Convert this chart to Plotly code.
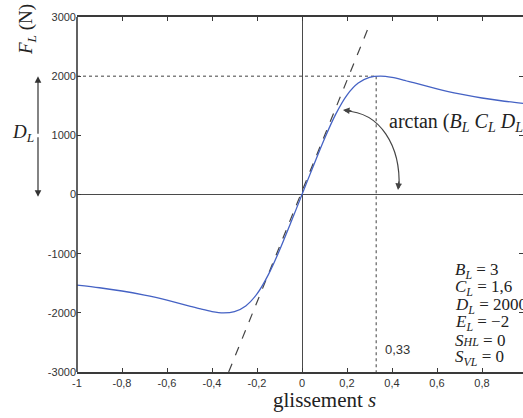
import plotly.graph_objects as go

# ---- data ----
slip = [-1.0, -0.9, -0.8, -0.7, -0.65, -0.6, -0.55, -0.5, -0.45, -0.4, -0.35, -0.3, -0.25, -0.2, -0.15, -0.1, -0.05,
        0.0, 0.05, 0.1, 0.15, 0.2, 0.25, 0.3, 0.35, 0.4, 0.45, 0.5, 0.55, 0.6, 0.65, 0.7, 0.8, 0.9, 1.0]
force = [-1532, -1576, -1631, -1700, -1740, -1785, -1834, -1885, -1935, -1978, -2000, -1979, -1883, -1681, -1359, -944, -479,
         0, 479, 944, 1359, 1681, 1883, 1979, 2000, 1978, 1935, 1885, 1834, 1785, 1740, 1700, 1631, 1576, 1532]
tangent_s = [-0.326, 0.297]
tangent_F = [-3000, 2840]
peak_s = 0.33
peak_F = 2000

x_tickvals = [-1, -0.8, -0.6, -0.4, -0.2, 0, 0.2, 0.4, 0.6, 0.8]
x_ticktext = ["-1", "-0,8", "-0,6", "-0,4", "-0,2", "0", "0,2", "0,4", "0,6", "0,8"]
y_tickvals = [-3000, -2000, -1000, 0, 1000, 2000, 3000]
y_ticktext = ["-3000", "-2000", "-1000", "0", "1000", "2000", "3000"]

params = ["<i>B</i><sub><i>L</i></sub> = 3",
          "<i>C</i><sub><i>L</i></sub> = 1,6",
          "<i>D</i><sub><i>L</i></sub> = 2000",
          "<i>E</i><sub><i>L</i></sub> = \u22122",
          "<i>S</i><span style='font-size:12px'><i>HL</i></span> = 0",
          "<i>S</i><sub><i>VL</i></sub> = 0"]

W, H = 523, 418
ML, MR, MT, MB = 77, 0, 17, 46
PW, PH = W - ML - MR, H - MT - MB

def px_x(p):
    return (p - ML) / PW

def px_y(p):
    return (H - MB - p) / PH

AX = "#3a3a3a"
SERIF = "Liberation Serif"
SANS = "Liberation Sans"

fig = go.Figure()

# tangent (dashed)
fig.add_trace(go.Scatter(x=tangent_s, y=tangent_F, mode="lines",
                         line=dict(color="#444444", width=1.2, dash="9px,9px"),
                         hoverinfo="skip", showlegend=False))
# dotted guides
fig.add_trace(go.Scatter(x=[-1, peak_s], y=[peak_F, peak_F], mode="lines",
                         line=dict(color="#808080", width=1.5, dash="3px,3px"),
                         hoverinfo="skip", showlegend=False))
fig.add_trace(go.Scatter(x=[peak_s, peak_s], y=[peak_F, -3000], mode="lines",
                         line=dict(color="#808080", width=1.5, dash="3px,3px"),
                         hoverinfo="skip", showlegend=False))
# curve
fig.add_trace(go.Scatter(x=slip, y=force, mode="lines",
                         line=dict(color="#4562c4", width=1.3, shape="spline", smoothing=0.8),
                         hoverinfo="skip", showlegend=False))

shapes = [
    # left axis line
    dict(type="line", xref="paper", yref="paper", x0=0, x1=0, y0=0, y1=1,
         line=dict(color=AX, width=1.6)),
    # curved arrow
    dict(type="path", xref="x", yref="y",
         path="M 0.191,1411 C 0.347,1394 0.44,820 0.431,110",
         line=dict(color="#444444", width=1.2)),
]

ann = []
# arrow heads of curved arrow
ann.append(dict(x=0.182, y=1428, xref="x", yref="y", ax=10, ay=1, text="",
                showarrow=True, arrowhead=2, arrowsize=1.1, arrowwidth=1.2, arrowcolor="#444444"))
ann.append(dict(x=0.4267, y=76, xref="x", yref="y", ax=1, ay=-10, text="",
                showarrow=True, arrowhead=2, arrowsize=1.1, arrowwidth=1.2, arrowcolor="#444444"))
# D_L double arrow
ann.append(dict(x=px_x(38), y=2000, xref="paper", yref="y", ax=0, ay=59, text="",
                showarrow=True, arrowhead=2, arrowsize=1.1, arrowwidth=1.2, arrowcolor="#333333"))
ann.append(dict(x=px_x(38), y=-40, xref="paper", yref="y", ax=0, ay=-61, text="",
                showarrow=True, arrowhead=2, arrowsize=1.1, arrowwidth=1.2, arrowcolor="#333333"))

def label(xp, yp, text, font, xanchor="center", **kw):
    ann.append(dict(x=px_x(xp), y=px_y(yp), xref="paper", yref="paper", showarrow=False,
                    xanchor=xanchor, yanchor="middle", text=text, font=font, **kw))

label(23, 133, "<i>D</i><sub><i>L</i></sub>", dict(family=SERIF, size=19, color="#222"))
# axis titles
label(27, 30, "<i>F</i><sub><i>L</i></sub> (N)", dict(family=SERIF, size=19, color="#222"), textangle=-90)
label(324, 400, "glissement <i>s</i>", dict(family=SERIF, size=21, color="#222"))
# arctan label
label(387, 122, "arctan (<i>B</i><sub><i>L</i></sub> <i>C</i><sub><i>L</i></sub> <i>D</i><sub><i>L</i></sub>)",
      dict(family=SERIF, size=20, color="#222"), xanchor="left")
# 0,33 label
label(383, 349, "0,33", dict(family=SANS, size=13, color="#333"), xanchor="left")
# parameter block
for i, t in enumerate(params):
    label(453, 271 + 17.3 * i, t, dict(family=SERIF, size=17, color="#222"), xanchor="left")

x_right = -1 + PW / 225.0

fig.update_layout(
    width=W, height=H,
    margin=dict(l=ML, r=MR, t=MT, b=MB, pad=0, autoexpand=False),
    paper_bgcolor="white", plot_bgcolor="white",
    shapes=shapes, annotations=ann,
    xaxis=dict(range=[-1, x_right], tickvals=x_tickvals, ticktext=x_ticktext,
               showgrid=False, zeroline=True, zerolinecolor="#4a4a4a", zerolinewidth=1.2,
               showline=True, linecolor=AX, linewidth=1.6, mirror="ticks",
               ticks="inside", ticklen=4, tickcolor=AX, tickwidth=1.2,
               tickfont=dict(family=SANS, size=11, color="#333")),
    yaxis=dict(range=[-3000, 3000], tickvals=y_tickvals, ticktext=y_ticktext,
               showgrid=False, zeroline=True, zerolinecolor="#4a4a4a", zerolinewidth=1.2,
               showline=False, mirror="ticks",
               ticks="inside", ticklen=4, tickcolor=AX, tickwidth=1.2,
               tickfont=dict(family=SANS, size=11, color="#333")),
)

fig.write_html("out.html", config={"displayModeBar": False},
               post_script="document.body.style.margin='0';document.body.style.overflow='hidden';")
